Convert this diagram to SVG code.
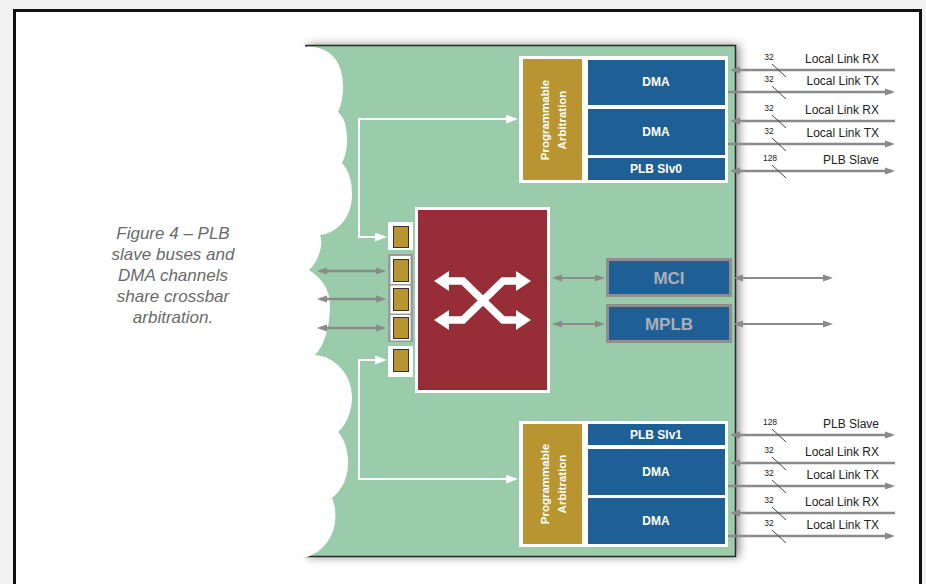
<svg xmlns="http://www.w3.org/2000/svg" width="926" height="584" viewBox="0 0 926 584">
<style>
.lbl{font-family:"Liberation Sans",Arial,sans-serif;font-size:12px;fill:#222;text-anchor:end}
.num{font-family:"Liberation Sans",Arial,sans-serif;font-size:8.5px;fill:#222;text-anchor:middle}
.wt{font-family:"Liberation Sans",Arial,sans-serif;font-size:12px;font-weight:bold;fill:#fff;text-anchor:middle}
.rot{font-family:"Liberation Sans",Arial,sans-serif;font-size:11.5px;font-weight:bold;fill:#fff;text-anchor:middle}
.big{font-family:"Liberation Sans",Arial,sans-serif;font-size:17px;font-weight:bold;fill:#a9afb6;text-anchor:middle}
.cap{font-family:"Liberation Sans",Arial,sans-serif;font-size:17px;font-style:italic;fill:#6a6a6a;text-anchor:middle}
.blue{fill:#1e6096}
.gold{fill:#b89530}
.port{fill:#b89530;stroke:#333;stroke-width:1}
.gl{stroke:#8a8a8a;stroke-width:2.5;fill:none}
.gm{stroke:#8a8a8a;stroke-width:2;fill:none}
.wl{stroke:#fff;stroke-width:2;fill:none}
.sl{stroke:#444;stroke-width:1}
</style>
<defs>
<marker id="ga" markerUnits="userSpaceOnUse" markerWidth="10" markerHeight="8" viewBox="0 0 10 8" refX="7" refY="4" orient="auto-start-reverse"><path d="M0,0.5 L10,4 L0,7.5 z" fill="#8a8a8a"/></marker>
<marker id="wa" markerUnits="userSpaceOnUse" markerWidth="12" markerHeight="9" viewBox="0 0 12 9" refX="9" refY="4.5" orient="auto-start-reverse"><path d="M0,0 L12,4.5 L0,9 z" fill="#fff"/></marker>
<filter id="sh" x="-10%" y="-10%" width="120%" height="120%"><feDropShadow dx="3" dy="0" stdDeviation="5" flood-color="#000" flood-opacity="0.45"/></filter>
</defs>
<rect x="0" y="0" width="926" height="584" fill="#f2f2f2"/>
<rect x="14.5" y="10.5" width="906" height="600" fill="#fff" stroke="#111" stroke-width="3"/>
<text class="cap"><tspan x="173" y="239">Figure 4 – PLB</tspan><tspan x="173" y="260">slave buses and</tspan><tspan x="173" y="281">DMA channels</tspan><tspan x="173" y="302">share crossbar</tspan><tspan x="173" y="323">arbitration.</tspan></text>
<g id="panel">
<rect x="306" y="45.5" width="429.5" height="511" fill="#9acbab" stroke="#2a2a2a" stroke-width="1.5" filter="url(#sh)"/>
<path fill="#fff" d="M250,40 L303,47 C330,44 343,62 343,86 C343,98 341,106 338,112 C345,118 347,128 347,140 C347,150 345,157 342,163 C350,172 352,183 352,195 C352,218 337,233 320,235 C324,245 318,262 309,270 C322,278 330,290 330,305 C330,325 325,345 315,355 C335,356 352,375 352,397 C352,412 346,425 338,432 C345,440 348,450 348,463 C348,478 342,490 332,498 C335,505 336,512 335,522 C333,540 320,553 307,557 L250,565 Z"/>
</g>
<g id="connectors">
<line class="gl" x1="320" y1="271" x2="383" y2="271" marker-start="url(#ga)" marker-end="url(#ga)"/>
<line class="gl" x1="320" y1="299" x2="383" y2="299" marker-start="url(#ga)" marker-end="url(#ga)"/>
<line class="gl" x1="320" y1="328" x2="383" y2="328" marker-start="url(#ga)" marker-end="url(#ga)"/>
<path class="wl" d="M384,237 L359,237 L359,119 L515,119" marker-start="url(#wa)" marker-end="url(#wa)"/>
<path class="wl" d="M384,360 L359,360 L359,479 L515,479" marker-start="url(#wa)" marker-end="url(#wa)"/>
<line class="gm" x1="555" y1="278" x2="602" y2="278" marker-start="url(#ga)" marker-end="url(#ga)"/>
<line class="gm" x1="555" y1="324" x2="602" y2="324" marker-start="url(#ga)" marker-end="url(#ga)"/>
<line class="gm" x1="736" y1="278" x2="830" y2="278" marker-start="url(#ga)" marker-end="url(#ga)"/>
<line class="gm" x1="736" y1="324" x2="830" y2="324" marker-start="url(#ga)" marker-end="url(#ga)"/>
<line class="gl" x1="733" y1="70" x2="895" y2="70" marker-start="url(#ga)"/>
<line class="gl" x1="728" y1="92" x2="892" y2="92" marker-end="url(#ga)"/>
<line class="gl" x1="733" y1="121" x2="895" y2="121" marker-start="url(#ga)"/>
<line class="gl" x1="728" y1="144" x2="892" y2="144" marker-end="url(#ga)"/>
<line class="gl" x1="733" y1="171" x2="892" y2="171" marker-start="url(#ga)" marker-end="url(#ga)"/>
<line class="gl" x1="733" y1="435" x2="892" y2="435" marker-start="url(#ga)" marker-end="url(#ga)"/>
<line class="gl" x1="733" y1="463" x2="895" y2="463" marker-start="url(#ga)"/>
<line class="gl" x1="728" y1="486" x2="892" y2="486" marker-end="url(#ga)"/>
<line class="gl" x1="733" y1="513" x2="895" y2="513" marker-start="url(#ga)"/>
<line class="gl" x1="728" y1="536" x2="892" y2="536" marker-end="url(#ga)"/>
<g class="sl">
<line x1="772" y1="64" x2="786" y2="77"/><line x1="772" y1="86" x2="786" y2="99"/><line x1="772" y1="115" x2="786" y2="128"/><line x1="772" y1="138" x2="786" y2="151"/><line x1="772" y1="165" x2="786" y2="178"/>
<line x1="772" y1="429" x2="786" y2="442"/><line x1="772" y1="457" x2="786" y2="470"/><line x1="772" y1="480" x2="786" y2="493"/><line x1="772" y1="507" x2="786" y2="520"/><line x1="772" y1="530" x2="786" y2="543"/>
</g>
<text class="num" x="769" y="60">32</text><text class="lbl" x="879" y="63">Local Link RX</text>
<text class="num" x="769" y="82">32</text><text class="lbl" x="879" y="85">Local Link TX</text>
<text class="num" x="769" y="111">32</text><text class="lbl" x="879" y="114">Local Link RX</text>
<text class="num" x="769" y="134">32</text><text class="lbl" x="879" y="137">Local Link TX</text>
<text class="num" x="770" y="161">128</text><text class="lbl" x="879" y="164">PLB Slave</text>
<text class="num" x="770" y="425">128</text><text class="lbl" x="879" y="428">PLB Slave</text>
<text class="num" x="769" y="453">32</text><text class="lbl" x="879" y="456">Local Link RX</text>
<text class="num" x="769" y="476">32</text><text class="lbl" x="879" y="479">Local Link TX</text>
<text class="num" x="769" y="503">32</text><text class="lbl" x="879" y="506">Local Link RX</text>
<text class="num" x="769" y="526">32</text><text class="lbl" x="879" y="529">Local Link TX</text>
</g>
<g id="ports">
<rect x="388" y="222" width="25" height="28" fill="#fff"/>
<rect class="port" x="393.5" y="226.5" width="15" height="21"/>
<rect x="388" y="254" width="25" height="88" fill="#9a9a9a"/>
<rect x="390.5" y="256" width="20" height="28" fill="#fff"/>
<rect x="390.5" y="285.5" width="20" height="28" fill="#fff"/>
<rect x="390.5" y="315" width="20" height="25.5" fill="#fff"/>
<rect class="port" x="393.5" y="259.5" width="15" height="22"/>
<rect class="port" x="393.5" y="288.5" width="15" height="22"/>
<rect class="port" x="393.5" y="317.5" width="15" height="21"/>
<rect x="388" y="346" width="25" height="31" fill="#fff"/>
<rect class="port" x="393.5" y="349.5" width="15" height="22"/>
</g>
<g id="crossbar">
<rect x="415" y="207" width="135" height="186" fill="#fff"/>
<rect x="418" y="210" width="129" height="180" fill="#962d37"/>
<path d="M447,281 L463,281 L503,320 L518,320 M447,320 L463,320 L503,281 L518,281" stroke="#fff" stroke-width="7.5" fill="none"/>
<path fill="#fff" d="M434,281 L449,271 L449,291 Z M434,320 L449,310 L449,330 Z M531,281 L516,271 L516,291 Z M531,320 L516,310 L516,330 Z"/>
</g>
<g id="mci">
<rect x="607.5" y="259.5" width="123" height="36" class="blue" stroke="#8e8e8e" stroke-width="3"/>
<text class="big" x="669" y="284">MCI</text>
</g>
<g id="mplb">
<rect x="607.5" y="305.5" width="123" height="36" class="blue" stroke="#8e8e8e" stroke-width="3"/>
<text class="big" x="669" y="330">MPLB</text>
</g>
<g id="top-block">
<rect x="519" y="56" width="209" height="127" fill="#fff"/>
<rect class="gold" x="523" y="59" width="59" height="121"/>
<rect class="blue" x="588" y="60" width="137" height="45"/>
<rect class="blue" x="588" y="109" width="137" height="46"/>
<rect class="blue" x="588" y="158" width="137" height="22"/>
<text class="wt" x="656" y="86">DMA</text>
<text class="wt" x="656" y="136">DMA</text>
<text class="wt" x="656" y="173">PLB Slv0</text>
<g transform="translate(552,120) rotate(-90)"><text class="rot" x="0" y="-3">Programmable</text><text class="rot" x="0" y="14">Arbitration</text></g>
</g>
<g id="bottom-block">
<rect x="519" y="421" width="209" height="126" fill="#fff"/>
<rect class="gold" x="523" y="424" width="59" height="120"/>
<rect class="blue" x="588" y="424" width="137" height="21"/>
<rect class="blue" x="588" y="449" width="137" height="46"/>
<rect class="blue" x="588" y="498" width="137" height="46"/>
<text class="wt" x="656" y="439">PLB Slv1</text>
<text class="wt" x="656" y="476">DMA</text>
<text class="wt" x="656" y="525">DMA</text>
<g transform="translate(552,484) rotate(-90)"><text class="rot" x="0" y="-3">Programmable</text><text class="rot" x="0" y="14">Arbitration</text></g>
</g>
</svg>
